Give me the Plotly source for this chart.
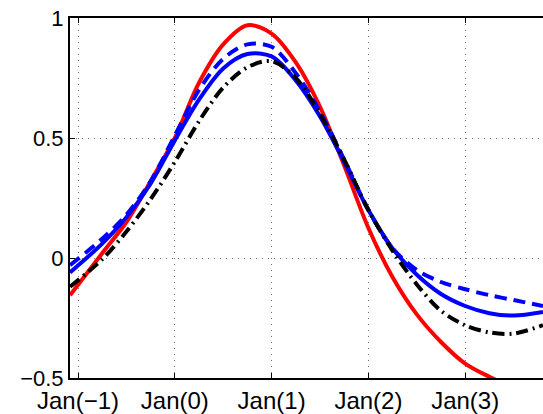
import plotly.graph_objects as go

# x positions in years relative to Jan(0)
t = [-1.083, -0.75, -0.5, -0.25, 0.0, 0.25, 0.5, 0.75, 1.0, 1.25, 1.5, 1.75,
     2.0, 2.25, 2.5, 2.75, 3.0, 3.25, 3.5, 3.804]

red_solid = [-0.155, 0.02, 0.15, 0.32, 0.50, 0.73, 0.89, 0.97, 0.935, 0.815, 0.63, 0.385,
             0.125, -0.08, -0.235, -0.35, -0.44, -0.495, -0.54, -0.58]
blue_solid = [-0.06, 0.06, 0.17, 0.31, 0.49, 0.66, 0.79, 0.85, 0.84, 0.74, 0.59, 0.40,
              0.20, 0.04, -0.07, -0.15, -0.20, -0.23, -0.24, -0.225]
blue_dashed = [-0.03, 0.08, 0.18, 0.32, 0.51, 0.70, 0.83, 0.89, 0.88, 0.77, 0.61, 0.41,
               0.20, 0.04, -0.05, -0.10, -0.13, -0.155, -0.175, -0.20]
black_dashdot = [-0.12, -0.005, 0.11, 0.245, 0.40, 0.57, 0.71, 0.795, 0.82, 0.75, 0.60, 0.41,
                 0.20, 0.03, -0.11, -0.22, -0.28, -0.31, -0.315, -0.28]

xtick_vals = [-1, 0, 1, 2, 3]
xtick_text = ["Jan(\u22121)", "Jan(0)", "Jan(1)", "Jan(2)", "Jan(3)"]
ytick_vals = [-0.5, 0, 0.5, 1]
ytick_text = ["\u22120.5", "0", "0.5", "1"]

fig = go.Figure()
fig.add_trace(go.Scatter(x=t, y=red_solid, mode="lines",
                         line=dict(color="#ff0000", width=4, shape="spline", smoothing=0.9)))
fig.add_trace(go.Scatter(x=t, y=blue_solid, mode="lines",
                         line=dict(color="#0000ff", width=4, shape="spline", smoothing=0.9)))
fig.add_trace(go.Scatter(x=t, y=blue_dashed, mode="lines",
                         line=dict(color="#0000ff", width=4, dash="12px,7px",
                                   shape="spline", smoothing=0.9)))
fig.add_trace(go.Scatter(x=t, y=black_dashdot, mode="lines",
                         line=dict(color="#000000", width=4, dash="12px,5px,2px,5px",
                                   shape="spline", smoothing=0.9)))

fig.update_layout(
    width=543, height=414,
    margin=dict(l=70, r=0, t=18, b=36),
    paper_bgcolor="white", plot_bgcolor="white",
    showlegend=False,
    font=dict(family="Liberation Sans, Arial, sans-serif", size=21, color="black"),
)
fig.update_xaxes(
    range=[-1.083, 3.804],
    tickvals=xtick_vals, ticktext=xtick_text,
    tickfont=dict(size=24),
    showline=True, linecolor="black", linewidth=2, mirror="allticks",
    ticks="inside", ticklen=5, tickcolor="black",
    showgrid=True, gridcolor="#777777", gridwidth=1, griddash="1px,5px",
    zeroline=False,
)
fig.update_yaxes(
    range=[-0.5, 1],
    tickvals=ytick_vals, ticktext=ytick_text,
    tickfont=dict(size=22),
    showline=True, linecolor="black", linewidth=2, mirror=False,
    ticks="inside", ticklen=5, tickcolor="black",
    showgrid=True, gridcolor="#777777", gridwidth=1, griddash="1px,5px",
    zeroline=False,
)

fig.write_html("out.html")
